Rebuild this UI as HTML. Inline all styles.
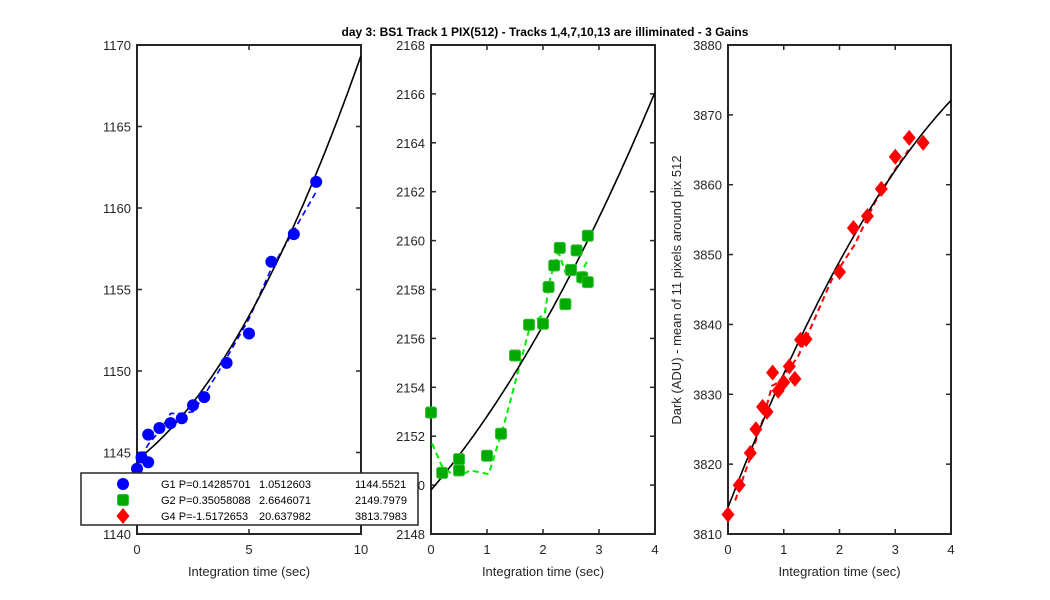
<!DOCTYPE html>
<html>
<head>
<meta charset="utf-8">
<style>
html,body{margin:0;padding:0;background:#fff;}
svg{display:block;font-family:"Liberation Sans",Arial,sans-serif;}
</style>
</head>
<body>
<svg id="fig" width="1050" height="600" viewBox="0 0 1050 600" xmlns="http://www.w3.org/2000/svg">
<rect width="1050" height="600" fill="#fff"/>
<text x="545" y="36" text-anchor="middle" font-size="12" font-weight="bold" fill="#000">day 3: BS1  Track 1 PIX(512) - Tracks 1,4,7,10,13 are illiminated - 3 Gains</text>
</svg>
<script>
// ---------- data ----------
const g1X = [0, 0.2, 0.5, 0.5, 1, 1.5, 2, 2.5, 3, 4, 5, 6, 7, 8];
const g1Y = [1144.0, 1144.7, 1144.4, 1146.1, 1146.5, 1146.8, 1147.1, 1147.9, 1148.4, 1150.5, 1152.3, 1156.7, 1158.4, 1161.6];
const g1DashX = [0, 0.5, 1, 1.5, 2, 2.5, 3, 4, 5, 6, 7, 8];
const g1DashY = [1144.2, 1145.5, 1146.3, 1147.4, 1147.4, 1147.5, 1148.5, 1150.8, 1153.2, 1156.3, 1158.6, 1161.0];
const g1Fit = [0.14285701, 1.0512603, 1144.5521];

const g2X = [0, 0.2, 0.5, 0.5, 1, 1.25, 1.5, 1.75, 2, 2.1, 2.2, 2.3, 2.4, 2.5, 2.6, 2.7, 2.8, 2.8];
const g2Y = [2152.97, 2150.5, 2151.06, 2150.6, 2151.2, 2152.1, 2155.3, 2156.56, 2156.6, 2158.1, 2158.98, 2159.7, 2157.4, 2158.8, 2159.6, 2158.5, 2158.3, 2160.2];
const g2DashX = [0.02, 0.19, 0.4, 0.54, 0.7, 1.03, 1.12, 1.33, 1.63, 1.78, 2.03, 2.13, 2.28, 2.4, 2.5, 2.66, 2.73, 2.81];
const g2DashY = [2151.7, 2150.8, 2150.4, 2150.4, 2150.6, 2150.45, 2151.1, 2152.7, 2155.3, 2156.6, 2157.0, 2158.5, 2159.5, 2158.7, 2158.8, 2158.3, 2158.9, 2159.25];
const g2Fit = [0.35058088, 2.6646071, 2149.7979];

const g4X = [0, 0.2, 0.4, 0.5, 0.62, 0.7, 0.8, 0.9, 1.0, 1.1, 1.2, 1.3, 1.4, 2.0, 2.25, 2.5, 2.75, 3.0, 3.25, 3.5];
const g4Y = [3812.8, 3817.0, 3821.6, 3825.0, 3828.2, 3827.5, 3833.1, 3830.5, 3831.7, 3834.0, 3832.2, 3837.8, 3837.9, 3847.5, 3853.8, 3855.5, 3859.4, 3864.0, 3866.7, 3866.0];
const g4DashX = [0.13, 0.35, 0.64, 0.79, 0.9, 1.25, 1.5, 1.86, 2.27, 2.63, 2.99, 3.24];
const g4DashY = [3814.8, 3819.8, 3826.7, 3831.2, 3831.7, 3835.3, 3839.8, 3846.4, 3851.4, 3857.4, 3862.1, 3865.0];
const g4Fit = [-1.5172653, 20.637982, 3813.7983];

const p1XTicks = [0, 5, 10];
const p1YTicks = [1140, 1145, 1150, 1155, 1160, 1165, 1170];
const p2XTicks = [0, 1, 2, 3, 4];
const p2YTicks = [2148, 2150, 2152, 2154, 2156, 2158, 2160, 2162, 2164, 2166, 2168];
const p3XTicks = [0, 1, 2, 3, 4];
const p3YTicks = [3810, 3820, 3830, 3840, 3850, 3860, 3870, 3880];

const legendLabels = ["G1 P=0.14285701", "G2 P=0.35058088", "G4 P=-1.5172653"];
const legendC2 = ["1.0512603", "2.6646071", "20.637982"];
const legendC3 = ["1144.5521", "2149.7979", "3813.7983"];

// ---------- drawing ----------
const NS = "http://www.w3.org/2000/svg";
const svg = document.getElementById("fig");
function mk(tag, attrs, parent) {
  const e = document.createElementNS(NS, tag);
  for (const k in attrs) e.setAttribute(k, attrs[k]);
  (parent || svg).appendChild(e);
  return e;
}
function makeAxis(x0, x1, y0, y1, xmin, xmax, ymin, ymax) {
  return {
    sx: v => x0 + (v - xmin) / (xmax - xmin) * (x1 - x0),
    sy: v => y1 - (v - ymin) / (ymax - ymin) * (y1 - y0),
    x0, x1, y0, y1
  };
}
function drawFrame(ax, xt, yt, name) {
  const g = mk("g", {});
  
  
  xt.forEach(v => {
    const x = ax.sx(v);
    const t1 = mk("line", {x1: x, x2: x, y1: ax.y1, y2: ax.y1 - 5, stroke: "#262626", "stroke-width": 1.5}, g);
    
    
    mk("line", {x1: x, x2: x, y1: ax.y0, y2: ax.y0 + 5, stroke: "#262626", "stroke-width": 1.5}, g);
    const lb = mk("text", {x: x, y: ax.y1 + 20, "text-anchor": "middle", "font-size": 13, fill: "#262626"}, g);
    lb.textContent = v;
    
    
  });
  yt.forEach(v => {
    const y = ax.sy(v);
    const t1 = mk("line", {x1: ax.x0, x2: ax.x0 + 5, y1: y, y2: y, stroke: "#262626", "stroke-width": 1.5}, g);
    
    
    mk("line", {x1: ax.x1, x2: ax.x1 - 5, y1: y, y2: y, stroke: "#262626", "stroke-width": 1.5}, g);
    const lb = mk("text", {x: ax.x0 - 6, y: y + 5, "text-anchor": "end", "font-size": 13, fill: "#262626"}, g);
    lb.textContent = v;
    
    
  });
  const box = mk("rect", {x: ax.x0, y: ax.y0, width: ax.x1 - ax.x0, height: ax.y1 - ax.y0, fill: "none", stroke: "#262626", "stroke-width": 2}, g);
  
  
  const xl = mk("text", {x: (ax.x0 + ax.x1) / 2, y: ax.y1 + 42, "text-anchor": "middle", "font-size": 13, fill: "#262626"}, g);
  xl.textContent = "Integration time (sec)";
  
  
}
function clipFor(ax, id) {
  const cp = mk("clipPath", {id: id});
  mk("rect", {x: ax.x0, y: ax.y0, width: ax.x1 - ax.x0, height: ax.y1 - ax.y0}, cp);
  return "url(#" + id + ")";
}
function polyline(ax, xs, ys, attrs, name, clip) {
  const pts = xs.map((x, i) => ax.sx(x).toFixed(1) + "," + ax.sy(ys[i]).toFixed(1)).join(" ");
  const p = mk("polyline", Object.assign({points: pts, fill: "none", "clip-path": clip}, attrs));
  
  
}
function fitCurve(ax, coef, xmin, xmax, name, clip) {
  const xs = [], ys = [];
  for (let i = 0; i <= 100; i++) {
    const x = xmin + (xmax - xmin) * i / 100;
    xs.push(x); ys.push(coef[0] * x * x + coef[1] * x + coef[2]);
  }
  polyline(ax, xs, ys, {stroke: "#000", "stroke-width": 1.6}, name, clip);
}
function marker(kind, cx, cy, parent) {
  let m;
  if (kind === "circle") m = mk("circle", {cx: cx, cy: cy, r: 6, fill: "#0000ff"}, parent);
  else if (kind === "square") m = mk("rect", {x: cx - 5.5, y: cy - 5.5, width: 11, height: 11, rx: 2, fill: "#00aa00", stroke: "#33c033", "stroke-width": 1}, parent);
  else m = mk("polygon", {points: `${cx},${cy - 8} ${cx + 6.5},${cy} ${cx},${cy + 8} ${cx - 6.5},${cy}`, fill: "#ff0000"}, parent);
  return m;
}
function points(ax, xs, ys, kind, name) {
  xs.forEach((x, i) => {
    const m = marker(kind, ax.sx(x), ax.sy(ys[i]));
    
    
  });
}

// Panel 1
const a1 = makeAxis(137, 361, 45, 534, 0, 10, 1140, 1170);
drawFrame(a1, p1XTicks, p1YTicks, "panel-g1-axes");
const c1 = clipFor(a1, "c1");
polyline(a1, g1DashX, g1DashY, {stroke: "#0000ff", "stroke-width": 1.6, "stroke-dasharray": "6,4"}, "g1-dashed-line", c1);
fitCurve(a1, g1Fit, 0, 10, "g1-fit-curve", c1);
points(a1, g1X, g1Y, "circle", "g1-point");

// Panel 2
const a2 = makeAxis(431, 655, 45, 534, 0, 4, 2148, 2168);
drawFrame(a2, p2XTicks, p2YTicks, "panel-g2-axes");
const c2 = clipFor(a2, "c2");
polyline(a2, g2DashX, g2DashY, {stroke: "#00ee00", "stroke-width": 2, "stroke-dasharray": "6,4"}, "g2-dashed-line", c2);
fitCurve(a2, g2Fit, 0, 4, "g2-fit-curve", c2);
points(a2, g2X, g2Y, "square", "g2-point");

// Panel 3
const a3 = makeAxis(728, 951, 45, 534, 0, 4, 3810, 3880);
drawFrame(a3, p3XTicks, p3YTicks, "panel-g4-axes");
const c3 = clipFor(a3, "c3");
polyline(a3, g4DashX, g4DashY, {stroke: "#ff0000", "stroke-width": 2, "stroke-dasharray": "6,4"}, "g4-dashed-line", c3);
fitCurve(a3, g4Fit, 0, 4, "g4-fit-curve", c3);
points(a3, g4X, g4Y, "diamond", "g4-point");

const yl = mk("text", {x: 0, y: 0, "text-anchor": "middle", "font-size": 13, fill: "#262626", transform: "translate(681,290) rotate(-90)"});
yl.textContent = "Dark (ADU) - mean of 11 pixels around pix 512";



// Legend
const lg = mk("g", {});


mk("rect", {x: 81, y: 473, width: 337, height: 52, fill: "#fff", stroke: "#262626", "stroke-width": 1.5}, lg);
const kinds = ["circle", "square", "diamond"];
legendLabels.forEach((lab, i) => {
  const y = 484 + i * 16;
  const m = marker(kinds[i], 123, y, lg);
  
  
  const t = mk("text", {x: 161, y: y + 4, "font-size": 11, fill: "#000"}, lg);
  t.textContent = lab;
  
  
  const t2 = mk("text", {x: 311, y: y + 4, "font-size": 11, fill: "#000", "text-anchor": "end"}, lg);
  t2.textContent = legendC2[i];
  
  
  const t3 = mk("text", {x: 355, y: y + 4, "font-size": 11, fill: "#000"}, lg);
  t3.textContent = legendC3[i];
  
  
});
</script>
</body>
</html>
